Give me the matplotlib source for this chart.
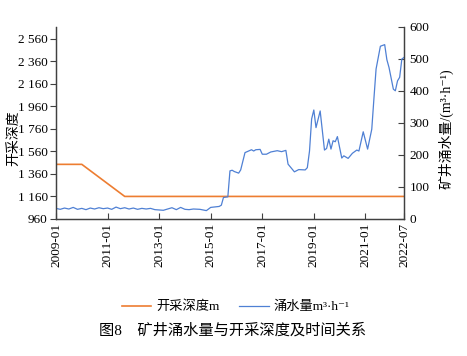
import numpy as np
import pandas as pd
import matplotlib
matplotlib.use("Agg")
import matplotlib.pyplot as plt
import matplotlib.dates as mdates
from matplotlib.ticker import FuncFormatter

plt.rcParams['font.family'] = ['Liberation Serif', 'Noto Sans CJK SC', 'DejaVu Serif']

# mining depth (m), left axis
depth_dates = ["2009-01", "2010-01", "2011-09", "2022-07"]
depth_values = [1445, 1445, 1160, 1160]

# mine water inflow (m3/h), right axis
flow_dates = [
    "2009-01", "2009-03", "2009-05", "2009-07", "2009-09", "2009-11",
    "2010-01", "2010-03", "2010-05", "2010-07", "2010-09", "2010-11",
    "2011-01", "2011-03", "2011-05", "2011-07", "2011-09", "2011-11",
    "2012-01", "2012-03", "2012-05", "2012-07", "2012-09", "2012-11",
    "2013-01", "2013-03", "2013-05", "2013-07", "2013-09", "2013-11",
    "2014-01", "2014-03", "2014-05", "2014-08", "2014-11",
    "2015-01", "2015-05", "2015-06", "2015-07", "2015-09", "2015-10",
    "2015-11", "2015-12", "2016-02", "2016-03", "2016-05", "2016-08",
    "2016-09", "2016-10", "2016-12", "2017-01", "2017-03", "2017-05",
    "2017-08", "2017-10", "2017-12", "2018-01", "2018-04", "2018-06",
    "2018-09", "2018-10", "2018-11", "2018-12", "2019-01", "2019-02",
    "2019-04", "2019-06", "2019-07", "2019-08", "2019-09", "2019-10",
    "2019-11", "2019-12", "2020-02", "2020-03", "2020-05", "2020-07",
    "2020-09", "2020-10", "2020-12", "2021-02", "2021-04", "2021-05",
    "2021-06", "2021-08", "2021-10", "2021-11", "2021-12", "2022-02",
    "2022-03", "2022-04", "2022-05", "2022-06", "2022-07",
]
flow_values = [
    33, 30, 34, 31, 36, 30,
    33, 29, 34, 31, 35, 32,
    34, 30, 37, 32, 35, 31,
    34, 30, 33, 31, 33, 29,
    28, 27, 31, 35, 29, 36,
    30, 29, 31, 30, 26,
    36, 39, 43, 67, 69, 150,
    152, 148, 143, 153, 207, 216,
    212, 216, 217, 202, 202, 209,
    213, 210, 214, 171, 147, 154,
    153, 160, 212, 312, 340, 285,
    337, 215, 220, 249, 218, 244,
    241, 257, 190, 197, 189, 205,
    215, 212, 272, 218, 280, 374,
    468, 539, 544, 497, 473, 405,
    400, 431, 442, 499, 504,
]

x_ticks = ["2009-01", "2011-01", "2013-01", "2015-01", "2017-01",
           "2019-01", "2021-01", "2022-07"]
depth_ticks = [960, 1160, 1360, 1560, 1760, 1960, 2160, 2360, 2560]
flow_ticks = [0, 100, 200, 300, 400, 500, 600]

orange = "#ED7D31"
blue = "#4F80D4"
spine_c = "#404040"

fig = plt.figure(figsize=(4.67, 3.56), dpi=100)
ax = fig.add_axes([0.12, 0.385, 0.745, 0.54])
ax2 = ax.twinx()

d_depth = pd.to_datetime(depth_dates)
d_flow = pd.to_datetime(flow_dates)

l1, = ax.plot(d_depth, depth_values, color=orange, lw=1.2, label="开采深度m")
l2, = ax2.plot(d_flow, flow_values, color=blue, lw=0.9, label="涌水量m³·h⁻¹")

ax.set_xlim(pd.Timestamp("2009-01"), pd.Timestamp("2022-07"))
ax.set_ylim(960, 2668)
ax2.set_ylim(0, 600)

ax.set_xticks(pd.to_datetime(x_ticks))
ax.xaxis.set_major_formatter(mdates.DateFormatter("%Y-%m"))
ax.set_yticks(depth_ticks)
ax.yaxis.set_major_formatter(FuncFormatter(lambda v, p: f"{int(v):,}".replace(",", " ")))
ax2.set_yticks(flow_ticks)

ax.spines["top"].set_visible(False)
ax2.spines["top"].set_visible(False)
for a in (ax, ax2):
    for s in ["left", "right", "bottom"]:
        a.spines[s].set_color(spine_c)
        a.spines[s].set_linewidth(0.9)

ax.tick_params(axis="x", direction="in", length=4, color=spine_c,
               labelsize=9.5, rotation=90, pad=3)
ax.tick_params(axis="y", direction="out", length=4, color=spine_c,
               labelsize=9.5, pad=2)
ax2.tick_params(axis="y", direction="in", length=4, color=spine_c,
                labelsize=9.5, pad=4)

ax.set_ylabel("开采深度", fontsize=10)
ax.yaxis.set_label_coords(-0.103, 0.42)
ax2.set_ylabel("矿井涌水量/(m³·h⁻¹)", fontsize=10)
ax2.yaxis.set_label_coords(1.10, 0.47)

fig.legend(handles=[l1, l2], loc="center", bbox_to_anchor=(0.505, 0.138),
           ncol=2, frameon=False, fontsize=9.5, handlelength=2.2,
           columnspacing=1.5, handletextpad=0.4)

fig.text(0.497, 0.072, "图8    矿井涌水量与开采深度及时间关系",
         ha="center", va="center", fontsize=11)

fig.savefig("out.png", dpi=100)
